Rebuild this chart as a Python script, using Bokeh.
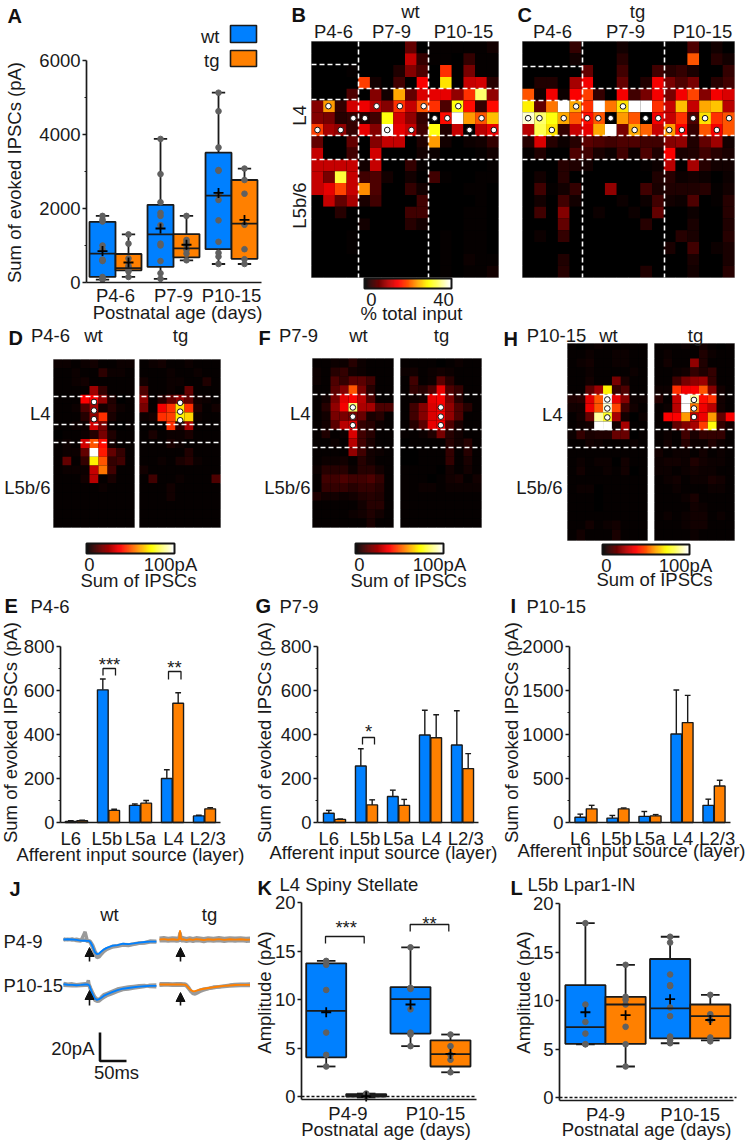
import math
import numpy as np
from bokeh.plotting import figure
from bokeh.layouts import column, row
from bokeh.models import Range1d, Label, FixedTicker, Arrow, NormalHead, ColumnDataSource
from bokeh.transform import linear_cmap
from bokeh.embed import file_html
from bokeh.resources import INLINE

FONT = "Liberation Sans"
BLUE = "#0080FF"
ORANGE = "#FF8000"
INK = "#1a1a1a"
DOT = "#606060"
FS = "18.5px"

# ---------- panel A ----------
A_GROUPS = ["P4-6", "P7-9", "P10-15"]
A_Q1 = [150, 330, 420, 680, 900, 640]
A_MED = [780, 390, 1300, 920, 2350, 1590]
A_Q3 = [1640, 770, 2100, 1310, 3510, 2770]
A_LOW = [80, 150, 100, 600, 500, 500]
A_HIGH = [1800, 1300, 3880, 1800, 5130, 3080]
A_MEAN = [850, 540, 1460, 1020, 2420, 1690]
A_PTS = [
    [80, 100, 150, 580, 600, 620, 900, 1000, 1650, 1700, 1800],
    [150, 300, 350, 400, 450, 650, 1050, 1300],
    [100, 250, 580, 1000, 1050, 1550, 1800, 1880, 2170, 2930, 3880],
    [600, 780, 880, 1000, 1080, 1150, 1800],
    [500, 700, 800, 1100, 1680, 2230, 2380, 3020, 3040, 3650, 4630, 5130],
    [500, 630, 900, 1560, 2400, 2770, 3080],
]
A_TICKS = [0, 2000, 4000, 6000]
A_MINOR = [1000, 3000, 5000]

# ---------- panel K, L ----------
KL_GROUPS = ["P4-9", "P10-15"]
K_Q1 = [4.05, 0.0, 6.5, 3.1]
K_MED = [8.85, 0.1, 10.05, 4.37]
K_Q3 = [13.75, 0.25, 11.3, 5.8]
K_LOW = [3.1, -0.1, 5.2, 2.5]
K_HIGH = [14.0, 0.3, 15.4, 6.4]
K_MEAN = [8.7, 0.0, 9.5, 4.4]
K_PTS = [
    [3.1, 4.3, 6.6, 11.0, 13.6, 14.0],
    [0.05, 0.1, 0.2, 0.3],
    [5.2, 6.4, 6.6, 9.0, 11.1, 11.2, 11.2, 15.4],
    [2.5, 3.8, 4.3, 5.2, 6.4],
]
L_Q1 = [5.54, 5.54, 6.1, 6.1]
L_MED = [7.27, 9.6, 9.2, 8.4]
L_Q3 = [11.6, 10.4, 14.3, 9.6]
L_LOW = [5.5, 3.2, 5.6, 5.9]
L_HIGH = [18.0, 13.7, 16.6, 10.6]
L_MEAN = [8.8, 8.5, 10.15, 8.0]
L_PTS = [
    [5.5, 5.5, 6.6, 7.8, 9.6, 18.0],
    [3.2, 5.5, 7.3, 9.6, 10.1, 10.4, 13.7],
    [5.6, 5.9, 6.2, 6.3, 8.4, 9.3, 11.5, 11.6, 12.7, 16.0, 16.6],
    [5.8, 6.2, 8.0, 8.6, 10.6],
]
KL_TICKS = [0, 5, 10, 15, 20]

# ---------- panels E, G, I ----------
LAYERS = ["L6", "L5b", "L5a", "L4", "L2/3"]
LAYER_TICKS = [-0.18, 0.95, 2.0, 3.03, 4.1]
E_WT = [5, 603, 78, 200, 30]
E_TG = [8, 55, 88, 542, 62]
E_WT_TOP = [8, 652, 84, 240, 33]
E_TG_TOP = [11, 60, 100, 590, 67]
E_TICKS = [0, 200, 400, 600, 800]
E_MINOR = [100, 300, 500, 700]
G_WT = [42, 257, 118, 398, 352]
G_TG = [14, 80, 78, 385, 245]
G_WT_TOP = [55, 335, 147, 510, 508]
G_TG_TOP = [16, 103, 105, 490, 313]
I_WT = [60, 50, 70, 1005, 195]
I_TG = [155, 155, 75, 1135, 415]
I_WT_TOP = [95, 80, 125, 1505, 265]
I_TG_TOP = [195, 165, 90, 1445, 480]
I_TICKS = [0, 500, 1000, 1500, 2000]
I_MINOR = [250, 750, 1250, 1750]

# ---------- heat maps (percent of the colour scale) ----------
B_MAP = [
    [0,0,0,0,0,0,0,0,15,0,1,1,1,1,1,3],
    [0,0,0,0,0,0,0,0,30,8,1,1,0,8,1,1],
    [0,0,0,1,0,0,0,5,20,12,0,45,0,18,1,1],
    [0,0,0,0,47,3,0,10,0,38,0,70,0,30,32,6],
    [0,0,0,12,0,20,3,62,15,33,35,35,22,45,85,22],
    [20,60,8,32,36,28,20,45,30,50,45,12,75,40,8,40],
    [20,18,6,8,5,10,75,32,22,8,0,40,100,60,50,65],
    [47,25,22,8,35,20,100,35,30,10,75,5,30,0,28,35],
    [15,0,0,15,0,20,30,30,0,5,60,3,0,2,3,8],
    [30,0,0,10,0,32,0,0,0,3,2,0,0,0,1,3],
    [30,30,30,30,3,30,0,0,8,1,0,0,0,0,0,1],
    [30,18,80,30,10,12,3,0,3,0,10,1,0,0,1,1],
    [30,35,48,30,58,12,0,0,8,3,0,0,0,1,1,0],
    [0,30,15,25,4,10,0,0,0,10,0,0,0,0,1,0],
    [0,0,6,0,0,0,0,0,10,10,0,0,0,1,1,0],
    [0,0,0,0,3,0,0,0,6,3,0,0,0,1,1,0],
    [0,0,0,1,0,0,0,0,0,0,0,1,0,1,1,0],
    [0,0,0,1,0,0,0,0,0,0,0,1,0,1,1,0],
    [0,0,0,0,0,0,0,0,0,0,0,1,0,2,1,1],
    [0,0,0,0,0,0,0,0,0,0,0,1,0,1,1,3],
]
B_DOT_COL = [1.45,5.57,7.56,9.6,12.56,3.58,4.57,10.54,11.62,14.55,0.51,2.5,6.48,8.55,13.52,15.6]
B_DOT_ROW = [5.48,5.48,5.48,5.48,5.48,6.5,6.5,6.5,6.5,6.5,7.5,7.5,7.5,7.5,7.5,7.5]

C_MAP = [
    [0,0,0,0,8,0,0,0,3,0,0,0,0,0,12,0,3,0],
    [0,0,0,0,3,0,0,0,6,0,0,0,0,0,50,0,6,3],
    [0,0,0,0,0,15,0,0,10,0,0,10,6,8,4,0,0,8],
    [0,5,5,0,25,37,0,0,15,0,5,37,18,12,18,0,6,10],
    [50,3,37,2,38,47,8,0,37,10,18,37,18,37,48,20,37,33],
    [72,15,55,100,62,45,100,55,70,100,100,45,30,65,30,62,66,28],
    [95,85,75,62,50,40,50,0,60,50,0,37,30,45,12,70,45,50],
    [28,82,70,8,30,35,62,100,18,62,52,30,60,38,8,50,37,50],
    [6,33,6,2,6,14,12,10,12,12,10,10,20,22,5,15,24,3],
    [1,5,0,0,12,10,4,2,10,2,12,5,38,4,5,10,6,4],
    [0,0,0,6,5,3,0,0,0,0,1,2,28,0,25,6,3,3],
    [0,3,0,6,0,0,0,0,0,0,0,5,6,2,3,2,0,2],
    [0,10,1,3,8,0,0,22,0,0,10,4,5,5,5,6,1,3],
    [0,3,0,10,3,0,0,0,2,0,2,10,3,2,12,0,1,6],
    [0,10,0,20,0,0,2,0,0,2,0,15,0,0,2,0,0,6],
    [0,0,0,15,0,0,0,0,0,0,6,0,0,0,4,0,0,5],
    [0,2,0,8,0,0,0,0,0,0,0,0,0,6,4,0,0,6],
    [0,0,0,0,0,0,0,0,0,0,0,0,4,0,10,0,2,4],
    [0,0,0,5,0,0,0,0,0,0,0,0,0,0,4,0,0,4],
    [0,0,0,6,0,0,0,0,0,0,5,0,0,0,3,0,0,6],
]
C_DOT_COL = [4.55,8.53,0.48,1.44,3.5,5.5,6.44,7.49,10.45,11.53,14.49,15.5,17.54,2.49,9.52,12.46,13.53,16.5]
C_DOT_ROW = [5.5,5.5,6.5,6.5,6.5,6.5,6.5,6.5,6.5,6.5,6.5,6.5,6.5,7.5,7.5,7.5,7.5,7.5]

D_WT_MAP = [
    [2,2,1,2,3,1,1,2,2],
    [1,1,2,1,1,7,2,2,1],
    [1,1,2,3,1,1,1,1,1],
    [1,1,1,1,24,8,1,1,1],
    [1,1,1,38,38,22,5,0,1],
    [1,1,2,12,25,3,6,2,1],
    [1,1,1,6,22,45,4,1,1],
    [1,1,2,2,32,18,1,0,1],
    [0,1,1,2,6,18,5,1,1],
    [1,2,1,32,50,40,3,1,1],
    [1,2,2,15,100,42,15,8,1],
    [1,15,1,8,72,50,8,10,1],
    [1,2,2,2,30,55,10,1,1],
    [1,1,1,3,28,1,4,1,1],
    [1,1,1,1,1,2,1,1,1],
    [1,1,1,1,1,1,1,1,1],
    [1,1,1,1,1,1,1,1,1],
    [1,1,1,1,1,1,1,1,1],
    [1,1,1,1,1,1,1,1,1],
]
D_TG_MAP = [
    [1,2,3,1,1,2,1,1,1],
    [1,1,1,2,1,1,2,1,1],
    [3,1,1,2,2,1,1,5,1],
    [12,1,1,2,1,15,1,1,1],
    [22,1,6,15,22,15,3,2,1],
    [18,1,37,45,70,45,5,1,3],
    [2,3,45,47,72,68,2,1,1],
    [1,1,1,45,6,25,1,1,1],
    [1,4,1,2,2,4,1,1,1],
    [1,1,1,4,2,1,1,1,1],
    [1,1,1,1,1,5,1,1,1],
    [1,1,2,1,4,6,2,1,1],
    [3,1,1,1,1,1,1,1,1],
    [1,10,1,1,2,1,1,1,12],
    [1,1,1,3,1,1,1,1,1],
    [1,1,1,3,1,1,1,1,1],
    [1,1,1,1,1,1,1,1,1],
    [1,1,1,1,1,1,1,1,1],
    [1,1,1,1,1,1,1,1,1],
]
F_WT_MAP = [
    [1,1,2,2,6,2,1,1,1],
    [2,1,6,8,3,2,1,1,1],
    [2,1,12,8,14,14,10,1,1],
    [1,1,14,20,50,18,6,1,1],
    [1,3,18,34,38,28,12,1,1],
    [1,6,22,37,85,26,25,12,12],
    [1,3,18,18,18,16,4,6,1],
    [1,3,14,28,33,8,6,2,1],
    [1,5,1,2,33,10,6,1,1],
    [1,1,2,1,28,10,4,1,1],
    [1,1,1,1,22,10,3,2,1],
    [1,2,2,3,1,6,3,1,1],
    [2,6,6,6,2,6,6,3,1],
    [1,10,10,12,10,10,12,8,1],
    [1,8,8,8,6,8,8,6,1],
    [5,3,3,2,3,5,6,5,1],
    [1,1,1,1,1,3,6,6,1],
    [1,1,1,1,2,3,5,3,1],
    [1,1,1,1,1,1,4,1,1],
]
F_TG_MAP = [
    [1,1,1,1,0,1,2,1,1],
    [2,3,1,2,3,2,1,1,1],
    [1,10,1,2,14,6,1,1,1],
    [1,8,6,12,35,12,8,1,1],
    [1,2,3,35,38,18,6,1,1],
    [1,10,20,33,37,22,12,6,1],
    [1,10,20,33,38,22,12,1,1],
    [1,6,14,35,37,12,4,1,1],
    [1,1,2,5,18,6,3,1,1],
    [0,1,1,1,1,6,3,6,1],
    [0,0,1,1,1,8,1,6,1],
    [0,0,1,1,1,8,1,4,1],
    [1,1,1,1,0,3,1,3,1],
    [1,1,1,0,1,3,4,1,3],
    [1,1,2,2,1,2,2,2,2],
    [1,1,1,1,1,1,1,1,1],
    [1,1,1,1,1,1,1,1,1],
    [1,1,1,1,1,1,1,1,1],
    [1,1,1,1,1,1,1,1,1],
]
H_WT_MAP = [
    [1,0,1,2,1,1,1,1,1],
    [1,1,2,1,1,2,2,1,1],
    [1,2,3,1,1,2,2,1,1],
    [1,1,2,1,1,1,1,2,1],
    [1,1,3,1,1,18,4,1,1],
    [1,1,14,24,72,8,12,1,1],
    [5,6,34,50,100,35,20,2,2],
    [3,3,36,50,95,48,10,3,1],
    [1,3,16,90,78,25,3,0,2],
    [1,2,3,100,100,3,25,1,1],
    [2,8,4,5,5,16,16,0,1],
    [1,1,3,2,1,1,1,2,1],
    [1,1,1,1,1,1,1,1,1],
    [1,2,1,2,2,0,3,1,1],
    [1,3,1,1,2,1,3,0,1],
    [1,1,1,1,1,1,1,1,1],
    [1,2,2,0,1,1,1,1,1],
    [1,1,1,0,1,1,1,1,1],
    [1,1,1,0,1,1,1,1,1],
    [1,1,1,1,1,1,1,1,1],
    [1,1,3,1,2,3,1,1,1],
    [1,3,1,1,1,4,1,1,1],
]
H_TG_MAP = [
    [1,1,1,2,1,3,1,0,1],
    [1,2,1,1,1,5,2,1,1],
    [1,3,1,1,22,5,1,1,1],
    [1,1,2,3,8,5,8,1,1],
    [1,1,10,18,22,24,8,1,1],
    [2,2,45,37,38,50,20,3,1],
    [6,1,30,100,90,40,45,3,1],
    [1,2,28,100,55,36,28,3,1],
    [1,38,38,60,30,36,60,15,38],
    [1,1,15,20,25,47,75,8,3],
    [1,2,1,10,4,8,8,8,1],
    [1,3,1,6,2,2,5,2,1],
    [3,1,2,2,1,3,1,2,1],
    [2,3,3,2,5,3,2,2,1],
    [2,2,1,2,3,2,2,1,1],
    [1,2,3,1,2,2,4,3,1],
    [1,1,2,1,1,1,2,2,1],
    [1,1,1,2,4,1,1,1,1],
    [1,1,1,1,3,2,1,1,1],
    [1,2,1,2,3,3,1,2,1],
    [1,1,1,2,3,3,1,1,1],
    [1,1,1,1,2,1,1,1,1],
]

# ---------- traces of panel J (ms, pA) ----------
T_MS = [0,8,16,24,32,40,44,46,48,50,54,58,62,66,70,75,80,90,100,110,120,130,140,150,160,172]
T_TG_MS = [0,8,16,24,32,36,38,40,44,50,56,62,68,75,82,90,100,110,120,130,140,150,160,172]
WT49_MEAN = [0,0.2,0,-0.3,-0.8,-0.9,-1,-1,-1.2,-2,-5,-9,-10.5,-10,-8.5,-7,-6,-4.5,-4,-3,-3.3,-2.8,-2.2,-1.8,-1.5,-1.5]
WT49_G1 = [0.5,-0.3,0.4,-0.8,-1.2,5.5,-0.8,-1.4,-1.6,-2.5,-6,-10.5,-13,-12.5,-10.5,-8.5,-7,-5.5,-4.8,-4,-4.3,-3.4,-2.8,-2.5,-1.9,-1.8]
WT49_G2 = [-0.4,0.3,-0.4,0.2,-0.5,-0.4,-1.3,-1,-0.8,-1.6,-4,-8,-11,-11.5,-9.5,-7.8,-6.6,-5,-4.4,-3.6,-3.8,-3.2,-2.5,-2.2,-1.1,-1.2]
WT1015_MEAN = [0.2,-0.2,-0.3,-0.5,-0.3,0,0,-0.2,-0.8,-3,-7,-10,-11,-10.5,-9.5,-8,-7,-5.5,-4,-3,-2.5,-2,-1.5,-1.2,-1,-1]
WT1015_G1 = [0.7,0.3,0.5,-0.2,0.3,0.6,0.5,3,-1.4,-4,-8.2,-11.2,-12,-11.8,-10.5,-9.2,-8,-6.5,-5,-3.6,-3.3,-2.6,-2,-1.5,-0.5,-0.4]
WT1015_G2 = [-0.5,-0.8,-0.9,-1,-0.8,-0.6,-0.5,-0.6,-0.4,-2.4,-6,-9,-10.4,-10.6,-9,-7.2,-6.4,-4.8,-3.2,-2.4,-1.8,-1.3,-0.8,-0.6,-1.5,-1.7]
TG49_MEAN = [0,0.3,-0.2,0.2,-0.2,0,6.5,0,0.2,-0.4,0.2,-0.3,0.3,0,-0.4,0.2,-0.2,0.3,-0.3,0.2,-0.1,0.2,-0.2,0]
TG49_G1 = [1,1.3,0.8,1.2,0.9,1,5,1.1,1.2,0.6,1.1,0.6,1.2,1,0.6,1.2,0.8,1.3,0.7,1.2,0.9,1.2,0.8,1]
TG49_G2 = [-1,-0.7,-1.2,-0.7,-1.2,-1,2,-0.9,-0.8,-1.4,-0.8,-1.3,-0.7,-1,-1.4,-0.8,-1.2,-0.7,-1.3,-0.8,-1.1,-0.8,-1.2,-1]
TG1015_MEAN = [0,0,0.1,0,0,0,-0.1,-0.1,-0.3,-0.8,-2.5,-4,-4.8,-4.7,-4.2,-3.6,-3.2,-2.5,-2,-1.4,-1,-0.7,-0.4,-0.3,-0.3,-0.2]
TG1015_G1 = [0.6,0.5,0.6,0.4,0.5,0.5,0.4,0.4,0.2,-0.3,-2,-4.5,-6.5,-6.8,-6,-5,-4.2,-3,-2.3,-1.6,-1,-0.4,0.1,0.3,0.3,0.4]
TG1015_G2 = [-0.5,-0.4,-0.4,-0.5,-0.6,-0.4,-0.6,-0.5,-0.7,-1.2,-3,-5,-6,-6,-5,-4,-3.4,-2.9,-1.8,-1.8,-1.4,-1.1,-0.9,-0.8,-0.7,-0.7]


def hot_palette(n=256):
    out = []
    for i in range(n):
        v = i / (n - 1)
        r = min(1.0, v / 0.385)
        g = min(1.0, max(0.0, (v - 0.385) / 0.355))
        b = min(1.0, max(0.0, (v - 0.74) / 0.26))
        out.append("#%02x%02x%02x" % (int(r * 255), int(g * 255), int(b * 255)))
    return out


HOT = hot_palette()


def add_px(p, x0, x1, y0, y1):
    p.extra_x_ranges["px"] = Range1d(x0, x1)
    p.extra_y_ranges["px"] = Range1d(y1, y0)


def canvas(x0, y0, x1, y1):
    """A panel without axes, whose ranges are the page's own pixels."""
    p = figure(width=x1 - x0, height=y1 - y0, x_range=Range1d(x0, x1), y_range=Range1d(y1, y0),
               x_axis_location=None, y_axis_location=None, output_backend="svg", toolbar_location=None,
               min_border=0, min_border_left=0, min_border_right=0, min_border_top=0, min_border_bottom=0,
               outline_line_color=None, background_fill_color=None, border_fill_color=None)
    p.grid.visible = False
    add_px(p, x0, x1, y0, y1)
    return p


def axes_panel(x0, y0, x1, y1, left, bottom, x_zero, x_unit, y_zero, y_unit, yticks, yminor, xticks, xlabels,
               x_end, y_high, standoff):
    """The frame fills the cell; the axes sit at fixed data locations inside it, so they take no border."""
    xr = ((x0 - x_zero) / x_unit, (x1 - x_zero) / x_unit)
    yr = ((y_zero - y1) / y_unit, (y_zero - y0) / y_unit)
    xleft = (left - x_zero) / x_unit
    ybase = (y_zero - bottom) / y_unit
    p = figure(width=x1 - x0, height=y1 - y0, x_range=Range1d(*xr), y_range=Range1d(*yr),
               output_backend="svg", toolbar_location=None,
               min_border=0, min_border_left=0, min_border_bottom=0, min_border_top=0, min_border_right=0,
               outline_line_color=None, background_fill_color=None, border_fill_color=None)
    p.grid.visible = False
    add_px(p, x0, x1, y0, y1)
    ya = p.yaxis[0]
    ya.fixed_location = xleft
    ya.ticker = FixedTicker(ticks=yticks, minor_ticks=yminor)
    ya.bounds = (ybase, y_high)
    ya.major_tick_out = 4
    ya.major_tick_in = 0
    ya.minor_tick_out = 2
    ya.minor_tick_in = 0
    ya.major_label_standoff = 2
    xa = p.xaxis[0]
    xa.fixed_location = ybase
    xa.ticker = FixedTicker(ticks=xticks, minor_ticks=[])
    xa.major_label_overrides = {t: s for t, s in zip(xticks, xlabels)}
    xa.bounds = (xleft, (x_end - x_zero) / x_unit)
    xa.major_tick_line_color = None
    xa.major_tick_out = 0
    xa.major_tick_in = 0
    xa.major_label_standoff = standoff
    for a in (xa, ya):
        a.axis_line_color = INK
        a.axis_line_width = 1.7
        a.major_tick_line_width = 1.5
        a.minor_tick_line_width = 1.2
        a.major_label_text_font = FONT
        a.major_label_text_font_size = FS
        a.major_label_text_color = INK
        a.major_label_text_font_style = "normal"
    ya.major_tick_line_color = INK
    ya.minor_tick_line_color = INK
    return p


def txt(p, px, py, s, align="center", size=FS, style="normal", angle=0.0, color=INK):
    p.add_layout(Label(x=px, y=py, text=s, x_range_name="px", y_range_name="px",
                       text_font=FONT, text_font_size=size, text_font_style=style,
                       text_align=align, text_baseline="middle", text_color=color, angle=angle))


def letter(p, px, py, s):
    txt(p, px, py, s, align="left", size="20px", style="bold", color="#111111")


def ylabel(p, px, py, s):
    txt(p, px, py, s, angle=math.pi / 2)


def seg(p, x0, y0, x1, y1, color=INK, width=1.5, dash="solid"):
    p.segment(x0=x0, y0=y0, x1=x1, y1=y1, x_range_name="px", y_range_name="px",
              line_color=color, line_width=width, line_dash=dash)


def heat(p, matrix, x0, x1, y0, y1, cell_h=None, first=None):
    m = np.array(matrix, dtype=float)
    nr, nc = m.shape
    xe = np.linspace(x0, x1, nc + 1)
    if cell_h is None:
        ye = np.linspace(y0, y1, nr + 1)
    else:
        ye = np.clip(first + cell_h * np.arange(nr + 1), y0, y1)
        ye[-1] = y1
    rr, cc = np.mgrid[0:nr, 0:nc]
    p.quad(left=[x0], right=[x1], top=[y0], bottom=[y1], fill_color="#000000", line_color="#b0b0b0", line_width=1)
    src = ColumnDataSource(dict(l=xe[cc.ravel()], r=xe[cc.ravel() + 1], t=ye[rr.ravel()], b=ye[rr.ravel() + 1],
                                v=m.ravel()))
    cm = linear_cmap("v", HOT, 0, 100)
    p.quad(left="l", right="r", top="t", bottom="b", source=src, fill_color=cm, line_color=None)
    return xe, ye


def dots(p, xs, ys):
    p.scatter(xs, ys, size=5.6, marker="circle", fill_color="white", line_color="#151515", line_width=1.0)


def colorbar(p, x0, x1, y0, y1):
    n = 90
    xe = np.linspace(x0, x1, n + 1)
    src = ColumnDataSource(dict(l=xe[:-1], r=xe[1:], t=[y0] * n, b=[y1] * n, v=np.linspace(0, 100, n)))
    cm = linear_cmap("v", HOT, 0, 100)
    p.quad(left="l", right="r", top="t", bottom="b", source=src, fill_color=cm, line_color=cm, line_width=0.5)
    p.quad(left=[x0], right=[x1], top=[y0], bottom=[y1], fill_color=None, line_color="#151515", line_width=2)


def dash_h(p, x0, x1, ys):
    for y in ys:
        seg(p, x0, y, x1, y, color="white", width=1.6, dash="5 3")


def dash_v(p, y0, y1, xs):
    for x in xs:
        seg(p, x, y0, x, y1, color="white", width=1.6, dash="5 3")


def boxes(p, centers, half, q1, med, q3, low, high, mean, pts, cap, plus):
    cols = [BLUE, ORANGE] * len(centers)
    xs = []
    for c in centers:
        xs += [c - half, c + half]
    xs = np.array(xs)
    p.segment(x0=xs, y0=low, x1=xs, y1=high, line_color=INK, line_width=1.8)
    p.segment(x0=xs - cap, y0=low, x1=xs + cap, y1=low, line_color=INK, line_width=1.8)
    p.segment(x0=xs - cap, y0=high, x1=xs + cap, y1=high, line_color=INK, line_width=1.8)
    p.quad(left=xs - half, right=xs + half, top=q3, bottom=q1, fill_color=cols, line_color=INK, line_width=1.8)
    px, py = [], []
    for x, vals in zip(xs, pts):
        px += [x] * len(vals)
        py += vals
    p.scatter(px, py, size=5.6, marker="circle", fill_color=DOT, line_color=DOT)
    p.segment(x0=xs - half, y0=med, x1=xs + half, y1=med, line_color=INK, line_width=1.8)
    p.scatter(xs, mean, size=plus, marker="cross", line_color="#000000", line_width=1.8)


def bars(p, wt, tg, wt_top, tg_top):
    g = np.arange(len(wt))
    w = 0.335
    d = w / 2 + 0.01
    for off, vals, top, col in ((-d, wt, wt_top, BLUE), (d, tg, tg_top, ORANGE)):
        x = g + off
        p.segment(x0=x, y0=vals, x1=x, y1=top, line_color=INK, line_width=1.4)
        p.segment(x0=x - 0.09, y0=top, x1=x + 0.09, y1=top, line_color=INK, line_width=1.4)
        p.vbar(x=x, top=vals, bottom=0, width=w, fill_color=col, line_color=INK, line_width=1.4)


def bracket(p, x0, x1, ytop, ybot):
    p.line([x0, x0, x1, x1], [ybot, ytop, ytop, ybot], x_range_name="px", y_range_name="px",
           line_color=INK, line_width=1.3)


# ---------- row 1 ----------
ROW1 = 323
pA = axes_panel(0, 0, 280, ROW1, 86, 282, 115, 58.0, 282, 222 / 6000,
                A_TICKS, A_MINOR, [0, 1, 2], A_GROUPS, 261, 6000, 2)
boxes(pA, [0, 1, 2], 0.224, A_Q1, A_MED, A_Q3, A_LOW, A_HIGH, A_MEAN, A_PTS, 0.115, 10)
letter(pA, 7, 15, "A")
ylabel(pA, 14, 172, "Sum of evoked IPSCs (pA)")
txt(pA, 177, 312, "Postnatal age (days)")
txt(pA, 219, 36, "wt", align="right")
txt(pA, 219, 60, "tg", align="right")
pA.quad(left=[230], right=[256], top=[25], bottom=[42], x_range_name="px", y_range_name="px",
        fill_color=BLUE, line_color=INK, line_width=1.6)
pA.quad(left=[230], right=[256], top=[50], bottom=[66], x_range_name="px", y_range_name="px",
        fill_color=ORANGE, line_color=INK, line_width=1.6)

pB = canvas(280, 0, 510, ROW1)
heat(pB, B_MAP, 311, 498, 41, 277)
dots(pB, 311 + np.array(B_DOT_COL) * (187 / 16), 41 + np.array(B_DOT_ROW) * (236 / 20))
dash_v(pB, 41, 277, [358, 428])
dash_h(pB, 311, 358, [64, 99])
dash_h(pB, 358, 498, [88])
dash_h(pB, 311, 498, [135, 159])
colorbar(pB, 364, 451, 278, 288)
letter(pB, 291, 14, "B")
txt(pB, 410, 11, "wt")
txt(pB, 333, 31, "P4-6")
txt(pB, 391, 31, "P7-9")
txt(pB, 463, 31, "P10-15")
txt(pB, 299, 115, "L4", angle=math.pi / 2)
txt(pB, 299, 205, "L5b/6", angle=math.pi / 2)
txt(pB, 371, 299, "0")
txt(pB, 443, 299, "40")
txt(pB, 411, 313, "% total input")

pC = canvas(510, 0, 747, ROW1)
heat(pC, C_MAP, 522, 734, 41, 277)
dots(pC, 522 + np.array(C_DOT_COL) * (212 / 18), 41 + np.array(C_DOT_ROW) * (236 / 20))
dash_v(pC, 41, 277, [582, 664])
dash_h(pC, 522, 582, [66, 100])
dash_h(pC, 582, 734, [88])
dash_h(pC, 522, 734, [135, 159])
letter(pC, 517, 14, "C")
txt(pC, 637, 11, "tg")
txt(pC, 552, 31, "P4-6")
txt(pC, 625, 31, "P7-9")
txt(pC, 702, 31, "P10-15")

# ---------- row 2 ----------
pD = canvas(0, ROW1, 250, 590)
heat(pD, D_WT_MAP, 53, 134, 359, 527)
heat(pD, D_TG_MAP, 139, 220, 359, 527)
ch = 168 / 19
dots(pD, [53 + 4.5 * 9] * 3, [359 + r * ch for r in (4.8, 5.77, 6.75)])
dots(pD, [139 + 4.52 * 9] * 3, [359 + r * ch for r in (4.9, 5.9, 6.87)])
dash_h(pD, 53, 220, [396, 424, 442])
colorbar(pD, 86, 174, 543, 553)
letter(pD, 8, 337, "D")
txt(pD, 50, 335, "P4-6")
txt(pD, 93, 335, "wt")
txt(pD, 180, 335, "tg")
txt(pD, 50, 413, "L4", align="right")
txt(pD, 50, 487, "L5b/6", align="right")
txt(pD, 89, 564, "0")
txt(pD, 170, 564, "100pA")
txt(pD, 138, 580, "Sum of IPSCs")

pF = canvas(250, ROW1, 500, 590)
heat(pF, F_WT_MAP, 312, 393, 358, 527)
heat(pF, F_TG_MAP, 400, 481, 358, 527)
ch = 169 / 19
dots(pF, [312 + 4.48 * 9] * 3, [358 + r * ch for r in (5.5, 6.54, 7.5)])
dots(pF, [400 + 4.48 * 9] * 3, [358 + r * ch for r in (5.5, 6.54, 7.5)])
dash_h(pF, 312, 481, [394, 429, 447])
colorbar(pF, 355, 443, 543, 553)
letter(pF, 258, 337, "F")
txt(pF, 298, 335, "P7-9")
txt(pF, 358, 335, "wt")
txt(pF, 441, 335, "tg")
txt(pF, 310, 413, "L4", align="right")
txt(pF, 310, 487, "L5b/6", align="right")
txt(pF, 359, 564, "0")
txt(pF, 439, 564, "100pA")
txt(pF, 408, 580, "Sum of IPSCs")

pH = canvas(500, ROW1, 747, 590)
heat(pH, H_WT_MAP, 567, 647, 343, 540, cell_h=9, first=340)
heat(pH, H_TG_MAP, 654, 734, 343, 540, cell_h=9, first=340)
dots(pH, [567 + 4.48 * 80 / 9] * 3, [340 + r * 9 for r in (6.55, 7.55, 8.55)])
dots(pH, [654 + 4.44 * 80 / 9] * 3, [340 + r * 9 for r in (6.6, 7.55, 8.5)])
dash_h(pH, 567, 734, [394, 429, 447])
colorbar(pH, 602, 689, 544, 554)
letter(pH, 503, 338, "H")
txt(pH, 556, 335, "P10-15")
txt(pH, 608, 335, "wt")
txt(pH, 695, 335, "tg")
txt(pH, 562, 414, "L4", align="right")
txt(pH, 562, 487, "L5b/6", align="right")
txt(pH, 606, 565, "0")
txt(pH, 685, 565, "100pA")
txt(pH, 654, 579, "Sum of IPSCs")

# ---------- row 3 ----------
pE = axes_panel(0, 590, 250, 870, 60, 822, 76, 32.0, 822, 0.22,
                E_TICKS, E_MINOR, LAYER_TICKS, LAYERS, 220, 800, 5)
bars(pE, E_WT, E_TG, E_WT_TOP, E_TG_TOP)
letter(pE, 4, 605, "E")
txt(pE, 30, 606, "P4-6", align="left")
ylabel(pE, 10, 732, "Sum of evoked IPSCs (pA)")
txt(pE, 130, 854, "Afferent input source (layer)")
bracket(pE, 102.5, 115, 668, 675)
txt(pE, 109, 664, "***")
bracket(pE, 168, 180.5, 671, 679)
txt(pE, 174, 667, "**")

pG = axes_panel(250, 590, 500, 870, 317, 822, 334, 32.0, 822, 0.22,
                E_TICKS, E_MINOR, LAYER_TICKS, LAYERS, 478, 800, 5)
bars(pG, G_WT, G_TG, G_WT_TOP, G_TG_TOP)
letter(pG, 255, 605, "G")
txt(pG, 279, 606, "P7-9", align="left")
ylabel(pG, 264, 732, "Sum of evoked IPSCs (pA)")
txt(pG, 383, 852, "Afferent input source (layer)")
bracket(pG, 362, 374, 737, 744)
txt(pG, 368, 731, "*")

pI = axes_panel(500, 590, 747, 870, 569, 822, 585.5, 32.0, 822, 0.088,
                I_TICKS, I_MINOR, LAYER_TICKS, LAYERS, 730, 2000, 5)
bars(pI, I_WT, I_TG, I_WT_TOP, I_TG_TOP)
letter(pI, 510, 605, "I")
txt(pI, 526, 606, "P10-15", align="left")
ylabel(pI, 510.5, 732, "Sum of evoked IPSCs (pA)")
txt(pI, 631, 850, "Afferent input source (layer)")

# ---------- row 4 ----------
pJ = canvas(0, 870, 250, 1141)
PX_MS = 27 / 50
PX_PA = 28 / 20
pJ.extra_x_ranges["wt"] = Range1d(-63 / PX_MS, (250 - 63) / PX_MS)
pJ.extra_x_ranges["tg"] = Range1d(-159 / PX_MS, (250 - 159) / PX_MS)
for name, base in (("p49", 939), ("p1015", 984)):
    pJ.extra_y_ranges[name] = Range1d((base - 1141) / PX_PA, (base - 870) / PX_PA)


def trace(xname, yname, t, greys, mean, color):
    for g in greys:
        pJ.line(t, g, x_range_name=xname, y_range_name=yname, line_color="#9a9a9a", line_width=3.4)
    pJ.line(t, mean, x_range_name=xname, y_range_name=yname, line_color=color, line_width=1.9)


trace("wt", "p49", T_MS, [WT49_G1, WT49_G2], WT49_MEAN, BLUE)
trace("wt", "p1015", T_MS, [WT1015_G1, WT1015_G2], WT1015_MEAN, BLUE)
trace("tg", "p49", T_TG_MS, [TG49_G1, TG49_G2], TG49_MEAN, ORANGE)
trace("tg", "p1015", T_MS, [TG1015_G1, TG1015_G2], TG1015_MEAN, ORANGE)
for ax, y0, y1 in ((89, 961, 947), (180, 961, 947), (89, 1005, 990), (180, 1005, 992)):
    pJ.add_layout(Arrow(end=NormalHead(size=9, fill_color="#111111", line_color="#111111"),
                        x_start=ax, y_start=y0, x_end=ax, y_end=y1,
                        x_range_name="px", y_range_name="px", line_color="#111111", line_width=1.6))
pJ.line([99.5, 99.5, 126], [1032, 1060.5, 1060.5], x_range_name="px", y_range_name="px",
        line_color="#111111", line_width=2.6)
letter(pJ, 9, 888, "J")
txt(pJ, 109, 914, "wt")
txt(pJ, 209, 914, "tg")
txt(pJ, 3, 941, "P4-9", align="left")
txt(pJ, 3, 985, "P10-15", align="left")
txt(pJ, 94, 1048, "20pA", align="right")
txt(pJ, 116, 1072, "50ms")

uk = 9.685
pK = axes_panel(250, 870, 510, 1141, 301, 1099, 345.7, 84.3, 1096, uk,
                KL_TICKS, [], [0.02, 1.06], KL_GROUPS, 476, 20, 3)
pK.line([(301 - 345.7) / 84.3, (476 - 345.7) / 84.3], [0, 0], line_color="#111111", line_width=1.3, line_dash="3 2")
boxes(pK, [0, 1], 0.2372, K_Q1, K_MED, K_Q3, K_LOW, K_HIGH, K_MEAN, K_PTS, 0.11, 10)
letter(pK, 257, 887, "K")
txt(pK, 279, 884, "L4 Spiny Stellate", align="left")
ylabel(pK, 264, 992, "Amplitude (pA)")
txt(pK, 385.5, 1129, "Postnatal age (days)")
bracket(pK, 325, 363.7, 936, 943)
txt(pK, 345.7, 927, "***")
bracket(pK, 409.7, 448.3, 924, 931)
txt(pK, 429, 923, "**")

pL = axes_panel(510, 870, 747, 1141, 559, 1100, 605, 84.7, 1097, uk,
                KL_TICKS, [], [0, 1], KL_GROUPS, 733, 20, 3)
pL.line([(559 - 605) / 84.7, (736 - 605) / 84.7], [0, 0], line_color="#111111", line_width=1.3, line_dash="3 2")
boxes(pL, [0, 1], 0.2372, L_Q1, L_MED, L_Q3, L_LOW, L_HIGH, L_MEAN, L_PTS, 0.11, 10)
letter(pL, 510, 887, "L")
txt(pL, 527, 884, "L5b Lpar1-IN", align="left")
ylabel(pL, 523, 992, "Amplitude (pA)")
txt(pL, 646, 1129, "Postnatal age (days)")

root = column(row(pA, pB, pC, spacing=0), row(pD, pF, pH, spacing=0), row(pE, pG, pI, spacing=0),
              row(pJ, pK, pL, spacing=0), spacing=0)
open("out.html", "w").write(file_html(root, INLINE))
